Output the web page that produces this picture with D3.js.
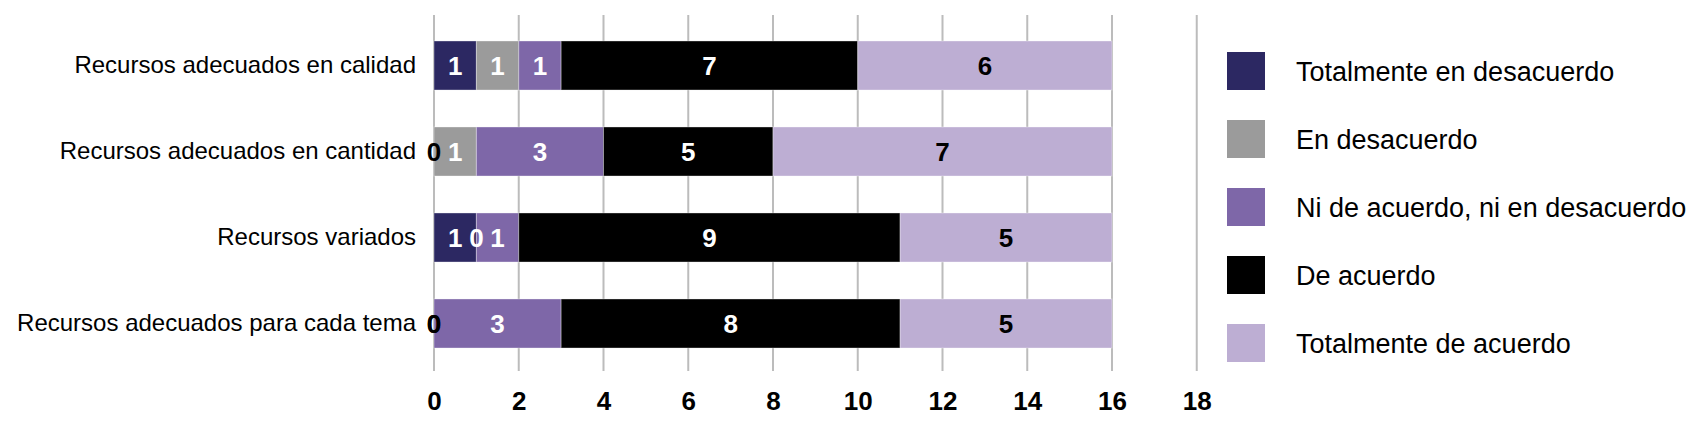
<!DOCTYPE html>
<html>
<head>
<meta charset="utf-8">
<script src="https://cdn.jsdelivr.net/npm/d3@7"></script>
<style>
  html, body { margin: 0; padding: 0; background: #fff; }
  #chart { width: 1693px; height: 424px; }
  text { font-family: "Liberation Sans", Arial, sans-serif; }
</style>
</head>
<body>
<div id="chart"></div>
<script>
const categories = [
  "Recursos adecuados en calidad",
  "Recursos adecuados en cantidad",
  "Recursos variados",
  "Recursos adecuados para cada tema",
];

const seriesNames = [
  "Totalmente en desacuerdo",
  "En desacuerdo",
  "Ni de acuerdo, ni en desacuerdo",
  "De acuerdo",
  "Totalmente de acuerdo",
];

// bar lengths per series, in category order (as drawn in the picture)
const totDesacuerdo = [1, 0, 1, 0];
const enDesacuerdo = [1, 1, 0, 0];
const niNi = [1, 3, 1, 3];
const deAcuerdo = [7, 4, 9, 8];
const totAcuerdo = [6, 8, 5, 5];

// printed labels where they differ from the bar length
const deAcuerdoLabels = [7, 5, 9, 8];
const totAcuerdoLabels = [6, 7, 5, 5];

const seriesColors = ["#2c2862", "#9b9b9b", "#7e67a8", "#000000", "#bdaed3"];
const labelColors = ["#fff", "#fff", "#fff", "#fff", "#000"];

const xTicks = [0, 2, 4, 6, 8, 10, 12, 14, 16, 18];

const width = 1693;
const height = 424;

const svg = d3
  .select("#chart")
  .append("svg")
  .attr("width", width)
  .attr("height", height);

const x = d3.scaleLinear().domain([0, 18]).range([434, 1196.75]);

const y = d3
  .scaleBand()
  .domain(categories)
  .range([22.5, 366.5])
  .paddingInner(0.43)
  .paddingOuter(0.215);

const seriesValues = [totDesacuerdo, enDesacuerdo, niNi, deAcuerdo, totAcuerdo];
const seriesLabels = [totDesacuerdo, enDesacuerdo, niNi, deAcuerdoLabels, totAcuerdoLabels];

const rows = categories.map((c, i) => {
  const row = { category: c, index: i };
  seriesNames.forEach((s, j) => (row[s] = seriesValues[j][i]));
  return row;
});

const stacked = d3.stack().keys(seriesNames)(rows);

// vertical gridlines
svg
  .append("g")
  .attr("class", "grid")
  .selectAll("line")
  .data(xTicks)
  .join("line")
  .attr("x1", (d) => x(d))
  .attr("x2", (d) => x(d))
  .attr("y1", 15)
  .attr("y2", 371)
  .attr("stroke", "#bcbcbc")
  .attr("stroke-width", 2);

// x axis labels
const xAxis = d3.axisBottom(x).tickValues(xTicks).tickSize(0).tickPadding(0);
svg
  .append("g")
  .attr("transform", "translate(0,392)")
  .call(xAxis)
  .call((g) => g.select(".domain").remove())
  .selectAll("text")
  .attr("font-family", '"Liberation Sans", Arial, sans-serif')
  .attr("font-size", 26)
  .attr("font-weight", "bold")
  .attr("fill", "#000");

// category labels
const yAxis = d3.axisLeft(y).tickSize(0).tickPadding(18);
svg
  .append("g")
  .attr("transform", `translate(${x(0)},0)`)
  .call(yAxis)
  .call((g) => g.select(".domain").remove())
  .selectAll("text")
  .attr("font-family", '"Liberation Sans", Arial, sans-serif')
  .attr("font-size", 24)
  .attr("fill", "#000");

// bars
const layers = svg
  .append("g")
  .attr("class", "bars")
  .selectAll("g")
  .data(stacked)
  .join("g")
  .attr("fill", (d, i) => seriesColors[i]);

layers
  .selectAll("rect")
  .data((d) => d)
  .join("rect")
  .attr("x", (d) => x(d[0]))
  .attr("y", (d) => y(d.data.category))
  .attr("width", (d) => x(d[1]) - x(d[0]))
  .attr("height", y.bandwidth())
  .attr("stroke", "rgba(255,255,255,0.35)")
  .attr("stroke-width", 1);

// value labels
const labels = svg.append("g").attr("class", "values").attr("text-anchor", "middle");
stacked.forEach((layer, i) => {
  labels
    .selectAll(`.v${i}`)
    .data(layer)
    .join("text")
    .attr("class", `v${i}`)
    .attr("x", (d) => (x(d[0]) + x(d[1])) / 2)
    .attr("y", (d) => y(d.data.category) + y.bandwidth() / 2)
    .attr("dy", "0.36em")
    .attr("font-size", 26)
    .attr("font-weight", "bold")
    .attr("fill", (d) => (d[1] - d[0] === 0 && d[0] === 0 ? "#000" : labelColors[i]))
    .text((d) => seriesLabels[i][d.data.index]);
});

// legend
const legend = svg
  .append("g")
  .attr("class", "legend")
  .selectAll("g")
  .data(seriesNames)
  .join("g")
  .attr("transform", (d, i) => `translate(1227,${71 + i * 68})`);

legend
  .append("rect")
  .attr("x", 0)
  .attr("y", -19)
  .attr("width", 38)
  .attr("height", 38)
  .attr("fill", (d, i) => seriesColors[i]);

legend
  .append("text")
  .attr("x", 69)
  .attr("dy", "0.36em")
  .attr("font-size", 27)
  .attr("fill", "#000")
  .text((d) => d);
</script>
</body>
</html>
